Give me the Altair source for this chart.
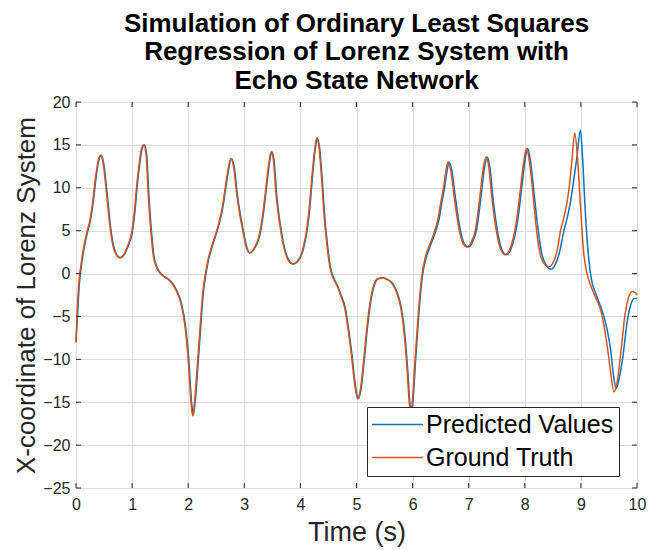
import altair as alt
import pandas as pd

# Ground truth (orange)
gt_t = [0.00, 0.02, 0.05, 0.08, 0.13, 0.19, 0.25, 0.30, 0.35, 0.40, 0.44, 0.48, 0.55, 0.60, 0.64, 0.70, 0.78, 0.86, 0.92, 0.99,
        1.04, 1.08, 1.13, 1.17, 1.21, 1.25, 1.29, 1.33, 1.38, 1.43, 1.49, 1.58, 1.68, 1.78, 1.87, 1.94, 2.00, 2.05, 2.08, 2.11,
        2.16, 2.21, 2.26, 2.30, 2.35, 2.42, 2.48, 2.55, 2.61, 2.66, 2.70, 2.76, 2.81, 2.87, 2.93, 2.97, 3.03, 3.09, 3.17, 3.26,
        3.32, 3.38, 3.44, 3.48, 3.52, 3.57, 3.63, 3.69, 3.78, 3.87, 3.94, 4.00, 4.06, 4.12, 4.16, 4.20, 4.25, 4.29, 4.33, 4.38,
        4.42, 4.47, 4.53, 4.59, 4.66, 4.72, 4.79, 4.85, 4.91, 4.97, 5.02, 5.07, 5.13, 5.19, 5.25, 5.31, 5.38, 5.46, 5.55, 5.64,
        5.72, 5.79, 5.85, 5.90, 5.94, 5.97, 6.00, 6.05, 6.10, 6.16, 6.23, 6.30, 6.38, 6.45, 6.50, 6.55, 6.59, 6.63, 6.68, 6.74,
        6.83, 6.90, 6.97, 7.05, 7.12, 7.20, 7.26, 7.31, 7.36, 7.41, 7.50, 7.57, 7.65, 7.73, 7.80, 7.86, 7.92, 7.98, 8.03, 8.08,
        8.15, 8.21, 8.27, 8.35, 8.43, 8.52, 8.58, 8.64, 8.70, 8.75, 8.80, 8.84, 8.89, 8.94, 8.99, 9.05, 9.11, 9.17, 9.23, 9.29,
        9.35, 9.41, 9.47, 9.53, 9.59, 9.65, 9.71, 9.79, 9.85, 9.91, 9.96, 10.00]
gt_x = [-8.0, -4.5, -1.2, 0.6, 2.8, 4.7, 6.3, 8.5, 11.3, 13.3, 13.8, 13.0, 9.0, 5.8, 3.9, 2.4, 1.85, 2.3, 3.2, 4.7,
        7.2, 10.1, 13.0, 14.6, 15.0, 13.8, 9.0, 5.3, 2.0, 0.8, 0.1, -0.4, -0.9, -1.9, -3.5, -6.0, -10.0, -15.0, -16.6, -15.2,
        -11.0, -6.5, -2.2, -0.3, 1.5, 3.2, 4.4, 6.0, 7.8, 10.0, 11.7, 13.4, 12.4, 9.0, 6.5, 5.1, 3.2, 2.4, 2.9, 4.3,
        6.5, 9.7, 13.0, 14.2, 13.2, 9.0, 5.8, 3.5, 1.6, 1.1, 1.4, 2.0, 3.3, 5.5, 7.8, 10.9, 14.2, 15.8, 14.8, 10.9,
        7.0, 3.5, 0.6, -0.6, -1.5, -2.6, -4.0, -6.5, -9.5, -13.0, -14.6, -13.5, -10.0, -6.0, -3.0, -1.3, -0.6, -0.5, -0.7, -1.2,
        -2.3, -4.0, -7.0, -11.0, -15.0, -16.5, -14.5, -9.5, -4.8, -0.5, 2.0, 3.3, 4.7, 6.3, 8.2, 10.0, 11.8, 13.0, 12.0, 9.0,
        5.1, 3.5, 3.1, 3.7, 5.1, 9.0, 12.3, 13.6, 12.3, 9.0, 4.7, 2.8, 2.2, 2.8, 4.3, 6.5, 9.7, 13.0, 14.6, 13.2,
        9.0, 5.0, 2.4, 1.1, 0.8, 1.5, 2.8, 5.1, 6.6, 8.2, 10.5, 13.2, 16.4, 13.5, 8.2, 2.4, 0.0, -1.3, -2.3, -3.2,
        -4.2, -6.0, -8.5, -11.5, -13.8, -12.5, -9.3, -4.6, -2.8, -2.1, -2.2, -2.5]

# Predicted values (blue)
pr_t = [0.00, 0.03, 0.06, 0.09, 0.14, 0.20, 0.26, 0.31, 0.36, 0.41, 0.45, 0.49, 0.56, 0.61, 0.65, 0.71, 0.79, 0.87, 0.93, 1.00,
        1.05, 1.09, 1.14, 1.18, 1.22, 1.26, 1.30, 1.34, 1.39, 1.44, 1.50, 1.59, 1.69, 1.79, 1.88, 1.95, 2.01, 2.06, 2.09, 2.12,
        2.17, 2.22, 2.27, 2.31, 2.36, 2.43, 2.49, 2.56, 2.62, 2.67, 2.71, 2.77, 2.82, 2.88, 2.94, 2.98, 3.04, 3.10, 3.18, 3.27,
        3.33, 3.39, 3.45, 3.49, 3.53, 3.58, 3.64, 3.70, 3.79, 3.88, 3.95, 4.01, 4.07, 4.13, 4.17, 4.21, 4.26, 4.30, 4.34, 4.39,
        4.43, 4.48, 4.54, 4.60, 4.67, 4.73, 4.80, 4.86, 4.92, 4.98, 5.03, 5.08, 5.14, 5.20, 5.26, 5.32, 5.39, 5.47, 5.56, 5.65,
        5.73, 5.80, 5.86, 5.91, 5.95, 5.98, 6.01, 6.06, 6.11, 6.17, 6.25, 6.32, 6.40, 6.47, 6.52, 6.57, 6.61, 6.65, 6.70, 6.76,
        6.85, 6.92, 6.99, 7.07, 7.14, 7.22, 7.28, 7.33, 7.38, 7.43, 7.52, 7.59, 7.67, 7.75, 7.82, 7.88, 7.94, 8.00, 8.05, 8.10,
        8.17, 8.24, 8.30, 8.39, 8.47, 8.56, 8.63, 8.70, 8.76, 8.81, 8.87, 8.93, 8.99, 9.03, 9.07, 9.13, 9.19, 9.25, 9.31, 9.36,
        9.41, 9.47, 9.53, 9.58, 9.63, 9.68, 9.74, 9.83, 9.89, 9.95, 10.00]
pr_x = [-8.0, -4.5, -1.2, 0.6, 2.8, 4.7, 6.3, 8.5, 11.3, 13.3, 13.8, 13.0, 9.0, 5.8, 3.9, 2.4, 1.85, 2.3, 3.2, 4.7,
        7.2, 10.1, 13.0, 14.6, 15.0, 13.8, 9.0, 5.3, 2.0, 0.8, 0.1, -0.4, -0.9, -1.9, -3.5, -6.0, -10.0, -15.0, -16.5, -15.2,
        -11.0, -6.5, -2.2, -0.3, 1.5, 3.2, 4.4, 6.0, 7.8, 10.0, 11.7, 13.4, 12.4, 9.0, 6.5, 5.1, 3.2, 2.4, 2.9, 4.3,
        6.5, 9.7, 13.0, 14.2, 13.2, 9.0, 5.8, 3.5, 1.6, 1.1, 1.4, 2.0, 3.3, 5.5, 7.8, 10.9, 14.2, 15.8, 14.8, 10.9,
        7.0, 3.5, 0.6, -0.6, -1.5, -2.6, -4.0, -6.5, -9.5, -13.0, -14.6, -13.5, -10.0, -6.0, -3.0, -1.3, -0.6, -0.5, -0.7, -1.2,
        -2.3, -4.0, -7.0, -11.0, -15.0, -16.6, -14.5, -9.5, -4.8, -0.5, 2.0, 3.3, 4.7, 6.3, 8.2, 10.0, 11.8, 13.0, 12.0, 9.0,
        5.1, 3.5, 3.1, 3.7, 5.1, 9.0, 12.3, 13.6, 12.3, 9.0, 4.7, 2.8, 2.2, 2.8, 4.3, 6.5, 9.7, 13.0, 14.6, 13.2,
        9.0, 5.0, 2.4, 0.9, 0.5, 1.3, 2.8, 5.1, 6.6, 8.2, 10.8, 13.6, 16.7, 13.5, 8.2, 2.4, -0.75, -2.1, -3.1, -4.0,
        -5.0, -6.6, -8.9, -11.8, -13.4, -12.3, -10.1, -5.4, -3.6, -2.9, -2.9]

x_ticks = [0, 1, 2, 3, 4, 5, 6, 7, 8, 9, 10]
y_ticks = [-25, -20, -15, -10, -5, 0, 5, 10, 15, 20]
series = ["Predicted Values", "Ground Truth"]
colors = ["#0072BD", "#D95319"]

df = pd.concat([
    pd.DataFrame({"t": pr_t, "x": pr_x, "series": series[0]}),
    pd.DataFrame({"t": gt_t, "x": gt_x, "series": series[1]}),
], ignore_index=True)
xt_df = pd.DataFrame({"v": x_ticks})
yt_df = pd.DataFrame({"v": y_ticks})

W, H = 561, 386
FONT = "Liberation Sans"
TXT = "#262626"
xs = alt.Scale(domain=[0, 10], nice=False, zero=False)
ys = alt.Scale(domain=[-25, 20], nice=False, zero=False)

color = alt.Color(
    "series:N",
    scale=alt.Scale(domain=series, range=colors),
    legend=alt.Legend(
        title=None, orient="none", legendX=291, legendY=305,
        symbolType="M-5,0H5", symbolSize=104, symbolStrokeWidth=1.5, symbolOffset=13,
        labelFontSize=25, labelFont=FONT, labelColor="black", labelLimit=400,
        labelOffset=16, strokeColor="#262626", fillColor="white",
        padding=5, rowPadding=7,
    ),
)

x_axis = alt.Axis(values=x_ticks, grid=True, gridColor="#dcdcdc", ticks=False, domain=False,
                  labelFlush=False, labelFont=FONT, labelFontSize=16, labelColor=TXT, labelPadding=8,
                  title="Time (s)", titleFont=FONT, titleFontSize=27, titleFontWeight="normal",
                  titleColor=TXT, titlePadding=7)
y_axis = alt.Axis(values=y_ticks, grid=True, gridColor="#dcdcdc", ticks=False, domain=False,
                  labelFlush=False, labelFont=FONT, labelFontSize=16, labelColor=TXT, labelPadding=6,
                  title="X-coordinate of Lorenz System", titleFont=FONT, titleFontSize=26,
                  titleFontWeight="normal", titleColor=TXT, titlePadding=3)

pred = alt.Chart(df).transform_filter(alt.datum.series == series[0]).mark_line(
    strokeWidth=1.5, interpolate="monotone").encode(
    x=alt.X("t:Q", scale=xs, axis=x_axis),
    y=alt.Y("x:Q", scale=ys, axis=y_axis),
    color=color,
)
gt = alt.Chart(df).transform_filter(alt.datum.series == series[1]).mark_line(
    strokeWidth=1.5, interpolate="monotone").encode(
    x=alt.X("t:Q", scale=xs, axis=x_axis),
    y=alt.Y("x:Q", scale=ys, axis=y_axis),
    color=color,
)

tk = 5
tb = alt.Chart(xt_df).mark_rule(color=TXT, strokeWidth=1).encode(
    x=alt.X("v:Q", scale=xs, axis=x_axis), y=alt.value(H), y2=alt.value(H - tk))
tt = alt.Chart(xt_df).mark_rule(color=TXT, strokeWidth=1).encode(
    x=alt.X("v:Q", scale=xs, axis=x_axis), y=alt.value(0), y2=alt.value(tk))
tl = alt.Chart(yt_df).mark_rule(color=TXT, strokeWidth=1).encode(
    y=alt.Y("v:Q", scale=ys, axis=y_axis), x=alt.value(0), x2=alt.value(tk))
tr = alt.Chart(yt_df).mark_rule(color=TXT, strokeWidth=1).encode(
    y=alt.Y("v:Q", scale=ys, axis=y_axis), x=alt.value(W - tk), x2=alt.value(W))

chart = alt.layer(pred, gt, tb, tt, tl, tr).properties(
    width=W, height=H,
    title=alt.TitleParams(
        text=["Simulation of Ordinary Least Squares", "Regression of Lorenz System with", "Echo State Network"],
        font=FONT, fontSize=26, fontWeight="bold", color="black", lineHeight=28.5,
        anchor="middle", offset=0.5,
    ),
    autosize=alt.AutoSizeParams(type="none"),
    padding={"left": 76, "top": 102, "right": 11, "bottom": 62},
).configure_view(stroke="#404040", strokeWidth=1).configure(background="white")

chart.save("out.html", embed_options={"renderer": "svg", "actions": False})
